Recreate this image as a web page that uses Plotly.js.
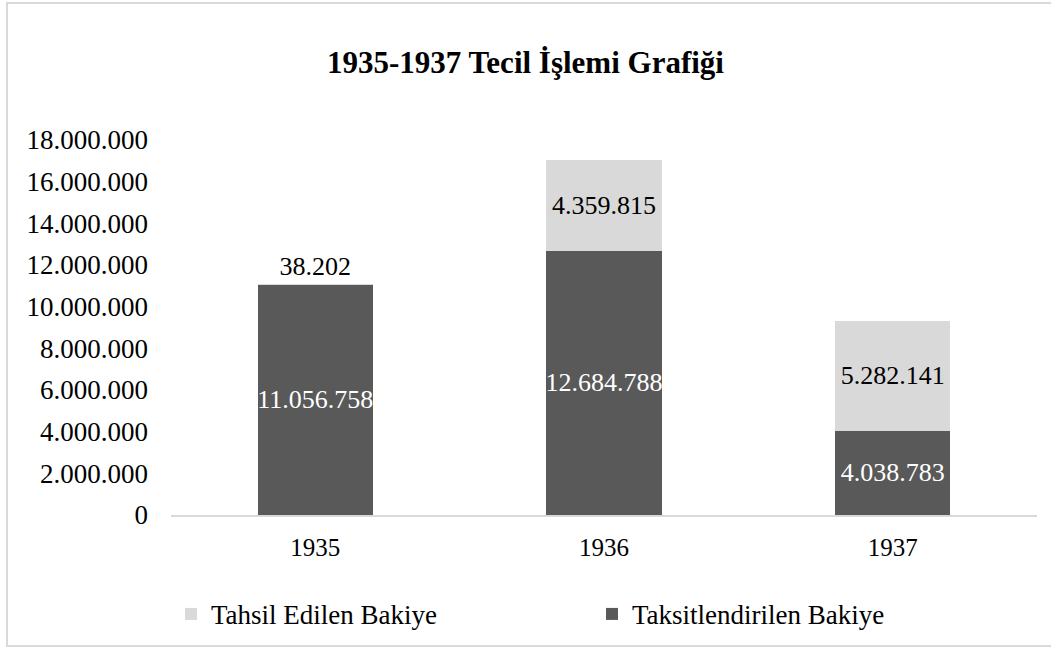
<!DOCTYPE html>
<html>
<head>
<meta charset="utf-8">
<script src="https://cdn.plot.ly/plotly-3.0.1.min.js"></script>
<style>
  body { margin: 0; padding: 0; background: #fff; overflow: hidden; }
  #wrap { position: relative; width: 1051px; height: 648px; overflow: hidden; }
  #chart { position: absolute; left: 0; top: 0; width: 1051px; height: 648px; }
  #frame { position: absolute; left: 6px; top: 2px; width: 1047px; height: 645px; border: 2px solid #d9d9d9; box-sizing: border-box; pointer-events: none; }
</style>
</head>
<body>
<div id="wrap">
  <div id="chart"></div>
  <div id="frame"></div>
</div>
<script>
const years = ['1935', '1936', '1937'];
const taksitlendirilen = [11056758, 12684788, 4038783];
const tahsilEdilen = [38202, 4359815, 5282141];
const seriesNames = ['Taksitlendirilen Bakiye', 'Tahsil Edilen Bakiye'];
const yTicks = [0, 2000000, 4000000, 6000000, 8000000, 10000000, 12000000, 14000000, 16000000, 18000000];

const FONT = 'Liberation Serif';

const traces = [
  {
    type: 'bar',
    name: seriesNames[0],
    x: years,
    y: taksitlendirilen,
    marker: { color: '#595959' },
    texttemplate: '%{y:,}',
    textposition: 'inside',
    insidetextanchor: 'middle',
    constraintext: 'none',
    textangle: 0,
    textfont: { family: FONT, size: 26, color: '#ffffff' },
    hoverinfo: 'skip'
  },
  {
    type: 'bar',
    name: seriesNames[1],
    x: years,
    y: tahsilEdilen,
    marker: { color: '#d9d9d9' },
    texttemplate: '%{y:,}',
    textposition: ['outside', 'inside', 'inside'],
    insidetextanchor: 'middle',
    constraintext: 'none',
    cliponaxis: false,
    textangle: 0,
    insidetextfont: { family: FONT, size: 26, color: '#000000' },
    outsidetextfont: { family: FONT, size: 26, color: '#000000' },
    hoverinfo: 'skip'
  }
];

const layout = {
  width: 1051,
  height: 648,
  separators: ',.',
  barmode: 'stack',
  bargap: 0.6,
  paper_bgcolor: '#ffffff',
  plot_bgcolor: '#ffffff',
  font: { family: FONT, size: 26, color: '#000000' },
  margin: { l: 171, r: 14, t: 140, b: 133, pad: 0, autoexpand: false },
  title: {
    text: '<b>1935-1937 Tecil İşlemi Grafiği</b>',
    font: { family: FONT, size: 31, color: '#000000' },
    x: 0.5, xanchor: 'center',
    y: 1 - 62 / 648, yanchor: 'middle', yref: 'container'
  },
  xaxis: {
    type: 'category',
    showline: true,
    linecolor: '#d9d9d9',
    linewidth: 2,
    showgrid: false,
    zeroline: false,
    ticks: '',
    tickfont: { family: FONT, size: 25, color: '#000000' },
    ticklabelstandoff: 9
  },
  yaxis: {
    range: [0, 18000000],
    tickvals: yTicks,
    tickformat: ',',
    showgrid: false,
    zeroline: false,
    showline: false,
    ticks: '',
    tickfont: { family: FONT, size: 27, color: '#000000' },
    ticklabelstandoff: 22
  },
  showlegend: true,
  legend: {
    orientation: 'h',
    traceorder: 'reversed',
    x: 0.0, xanchor: 'left',
    y: -0.265, yanchor: 'middle',
    entrywidth: 376,
    entrywidthmode: 'pixels',
    itemwidth: 30,
    font: { family: FONT, size: 27, color: '#000000' },
    bgcolor: 'rgba(0,0,0,0)'
  }
};

Plotly.newPlot('chart', traces, layout, { staticPlot: true, displayModeBar: false });
</script>
</body>
</html>
